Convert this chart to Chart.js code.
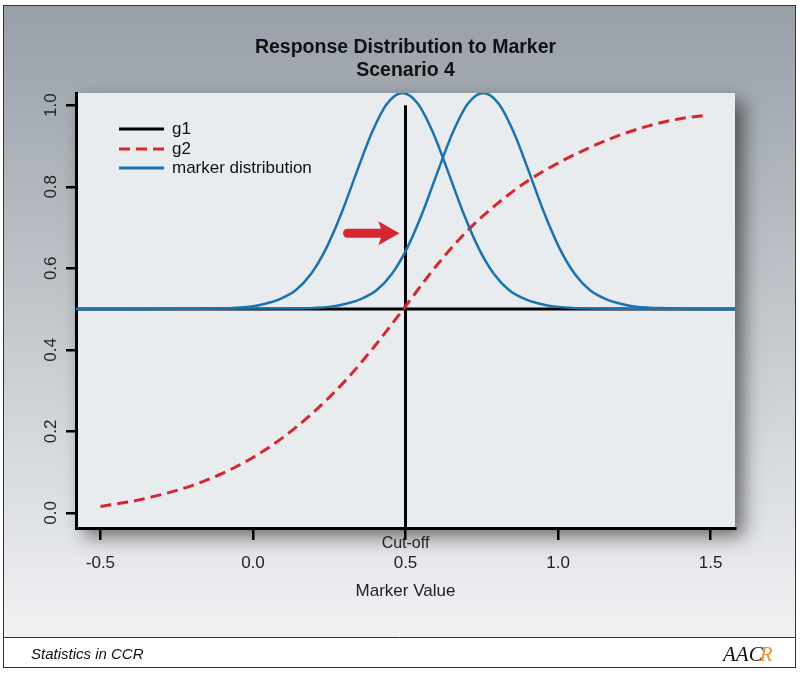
<!DOCTYPE html>
<html>
<head>
<meta charset="utf-8">
<script src="https://cdn.jsdelivr.net/npm/chart.js@4.4.1/dist/chart.umd.min.js"></script>
<style>
  html, body { margin: 0; padding: 0; background: #ffffff; }
  canvas { display: block; }
</style>
</head>
<body>
<canvas id="myChart" width="800" height="675"></canvas>
<script>
"use strict";

/* values */
const xTicks = [-0.5, 0.0, 0.5, 1.0, 1.5];
const yTicks = [0.0, 0.2, 0.4, 0.6, 0.8, 1.0];

// g1: cut-off line and 0.5 level
const g1X = [0.5, 0.5, null, -0.58, 1.58];
const g1Y = [1.0, -0.04, null, 0.5, 0.5];

// g2: red dashed curve
const g2X = [-0.5, -0.4, -0.3, -0.2, -0.1, 0.0, 0.1, 0.2, 0.3, 0.4, 0.5, 0.6, 0.7, 0.8, 0.9, 1.0, 1.1, 1.2, 1.3, 1.4, 1.48];
const g2Y = [0.016, 0.028, 0.045, 0.067, 0.097, 0.136, 0.186, 0.248, 0.322, 0.41, 0.507, 0.605, 0.69, 0.758, 0.814, 0.858, 0.895, 0.926, 0.95, 0.967, 0.975];

// marker distribution, two bumps
const dist1X = [-0.58, -0.11, -0.01, 0.04, 0.09, 0.14, 0.19, 0.24, 0.29, 0.34, 0.39, 0.44, 0.49, 0.54, 0.59, 0.64, 0.69, 0.74, 0.79, 0.84, 0.89, 0.94, 0.99, 1.09, 1.58];
const dist1Y = [0.5, 0.502, 0.506, 0.513, 0.525, 0.546, 0.586, 0.649, 0.735, 0.836, 0.933, 1.004, 1.03, 1.004, 0.933, 0.836, 0.735, 0.649, 0.586, 0.546, 0.525, 0.513, 0.506, 0.502, 0.5];
const dist2X = [-0.58, 0.155, 0.255, 0.305, 0.355, 0.405, 0.455, 0.505, 0.555, 0.605, 0.655, 0.705, 0.755, 0.805, 0.855, 0.905, 0.955, 1.005, 1.055, 1.105, 1.155, 1.205, 1.255, 1.355, 1.58];
const dist2Y = [0.5, 0.502, 0.506, 0.513, 0.525, 0.546, 0.586, 0.649, 0.735, 0.836, 0.933, 1.004, 1.03, 1.004, 0.933, 0.836, 0.735, 0.649, 0.586, 0.546, 0.525, 0.513, 0.506, 0.502, 0.5];

const legendLabels = ["g1", "g2", "marker distribution"];
const cutoff = 0.5;
const arrowFrom = [0.31, 0.686];
const arrowTo = [0.48, 0.686];

const FONT = "'Liberation Sans', Arial, sans-serif";
const BLUE = "#1a73ad";
const RED = "#d6262f";

function pts(xs, ys) {
    return xs.map((x, i) => ({ x: x, y: ys[i] }));
}

const framePlugin = {
    id: "frame",
    beforeDraw(chart) {
        const ctx = chart.ctx;
        const a = chart.chartArea;
        ctx.save();
        ctx.fillStyle = "#ffffff";
        ctx.fillRect(0, 0, 800, 675);
        const grad = ctx.createLinearGradient(0, 5, 0, 637);
        grad.addColorStop(0, "#989fa7");
        grad.addColorStop(0.5, "#c3c8cd");
        grad.addColorStop(1, "#f1f2f4");
        ctx.fillStyle = grad;
        ctx.fillRect(3, 5, 793, 632);
        // plot panel with shadow
        ctx.shadowColor = "rgba(0,0,0,0.55)";
        ctx.shadowBlur = 18;
        ctx.shadowOffsetX = 8;
        ctx.shadowOffsetY = 8;
        ctx.fillStyle = "#e9ecef";
        ctx.fillRect(a.left, a.top, a.right - a.left, a.bottom - a.top);
        ctx.restore();
    },
    afterDraw(chart) {
        const ctx = chart.ctx;
        const a = chart.chartArea;
        const xs = chart.scales.x;
        const ys = chart.scales.y;
        ctx.save();

        // title
        ctx.fillStyle = "#111";
        ctx.font = "bold 19.5px " + FONT;
        ctx.textAlign = "center";
        ctx.textBaseline = "middle";
        const cx = (a.left + a.right) / 2;
        ctx.fillText("Response Distribution to Marker", cx, 48);
        ctx.fillText("Scenario 4", cx, 71);

        // rotated y tick labels
        ctx.font = "17px " + FONT;
        ctx.fillStyle = "#222";
        yTicks.forEach(v => {
            const py = ys.getPixelForValue(v);
            ctx.save();
            ctx.translate(51, py);
            ctx.rotate(-Math.PI / 2);
            ctx.fillText(v.toFixed(1), 0, 0);
            ctx.restore();
        });

        // cut-off label
        ctx.font = "16px " + FONT;
        ctx.fillText("Cut-off", xs.getPixelForValue(cutoff), 544);

        // arrow
        const x0 = xs.getPixelForValue(arrowFrom[0]);
        const x1 = xs.getPixelForValue(arrowTo[0]);
        const y0 = ys.getPixelForValue(arrowFrom[1]);
        const headLen = 21;
        ctx.strokeStyle = RED;
        ctx.fillStyle = RED;
        ctx.lineWidth = 9;
        ctx.lineCap = "round";
        ctx.beginPath();
        ctx.moveTo(x0, y0);
        ctx.lineTo(x1 - headLen + 2, y0);
        ctx.stroke();
        ctx.beginPath();
        ctx.moveTo(x1, y0);
        ctx.lineTo(x1 - headLen, y0 - 12);
        ctx.lineTo(x1 - headLen + 4, y0);
        ctx.lineTo(x1 - headLen, y0 + 12);
        ctx.closePath();
        ctx.fill();

        // legend
        ctx.lineCap = "butt";
        ctx.textAlign = "left";
        ctx.font = "17px " + FONT;
        const rows = [129, 149, 168];
        chart.data.datasets.slice(0, 3).forEach((ds, i) => {
            ctx.strokeStyle = ds.borderColor;
            ctx.lineWidth = 3;
            ctx.setLineDash(ds.borderDash || []);
            ctx.beginPath();
            ctx.moveTo(119, rows[i]);
            ctx.lineTo(164, rows[i]);
            ctx.stroke();
            ctx.setLineDash([]);
            ctx.fillStyle = "#111";
            ctx.fillText(legendLabels[i], 172, rows[i]);
        });

        // footer strip
        ctx.fillStyle = "#ffffff";
        ctx.fillRect(3, 637, 793, 31);
        ctx.strokeStyle = "#333";
        ctx.lineWidth = 1;
        ctx.strokeRect(3.5, 5.5, 792, 662);
        ctx.beginPath();
        ctx.moveTo(3, 637.5);
        ctx.lineTo(796, 637.5);
        ctx.stroke();
        ctx.fillStyle = "#111";
        ctx.font = "italic 15px " + FONT;
        ctx.fillText("Statistics in CCR", 31, 655);
        ctx.font = "italic 21px 'Liberation Serif', serif";
        ctx.fillText("AAC", 723, 655);
        const w = ctx.measureText("AAC").width;
        ctx.fillStyle = "#f0922e";
        ctx.fillText("R", 723 + w - 3, 655);
        ctx.restore();
    }
};

const chartDiv = document.getElementById("myChart");

new Chart(chartDiv, {
    type: "line",
    data: {
        datasets: [{
            label: legendLabels[0],
            data: pts(g1X, g1Y),
            borderColor: "#000000",
            borderWidth: 3,
            tension: 0,
            spanGaps: false,
            order: 3
        }, {
            label: legendLabels[1],
            data: pts(g2X, g2Y),
            borderColor: RED,
            borderWidth: 3,
            borderDash: [11, 6],
            cubicInterpolationMode: "monotone",
            order: 2
        }, {
            label: legendLabels[2],
            data: pts(dist1X, dist1Y),
            borderColor: BLUE,
            borderWidth: 2.5,
            cubicInterpolationMode: "monotone",
            order: 1
        }, {
            label: legendLabels[2],
            data: pts(dist2X, dist2Y),
            borderColor: BLUE,
            borderWidth: 2.5,
            cubicInterpolationMode: "monotone",
            order: 1
        }]
    },
    options: {
        responsive: false,
        animation: false,
        layout: { padding: { left: 64, top: 93, right: 65, bottom: 73 } },
        elements: { point: { radius: 0 } },
        plugins: {
            legend: { display: false },
            title: { display: false },
            tooltip: { enabled: false }
        },
        scales: {
            x: {
                type: "linear",
                min: -0.58,
                max: 1.58,
                afterFit: s => { s.height = 74; },
                afterBuildTicks: s => { s.ticks = xTicks.map(v => ({ value: v })); },
                border: { color: "#000", width: 3 },
                grid: { drawOnChartArea: false, tickLength: 12, color: "#000", lineWidth: 2.5 },
                ticks: {
                    color: "#222",
                    font: { family: FONT, size: 17 },
                    padding: 13,
                    maxRotation: 0,
                    callback: v => v.toFixed(1)
                },
                title: {
                    display: true,
                    text: "Marker Value",
                    color: "#222",
                    font: { family: FONT, size: 17 },
                    padding: { top: 6, bottom: 0 }
                }
            },
            y: {
                type: "linear",
                min: -0.037,
                max: 1.03,
                afterFit: s => { s.width = 12; },
                afterBuildTicks: s => { s.ticks = yTicks.map(v => ({ value: v })); },
                border: { color: "#000", width: 3 },
                grid: { drawOnChartArea: false, tickLength: 10, color: "#000", lineWidth: 2.5 },
                ticks: { display: false }
            }
        }
    },
    plugins: [framePlugin]
});
</script>
</body>
</html>
